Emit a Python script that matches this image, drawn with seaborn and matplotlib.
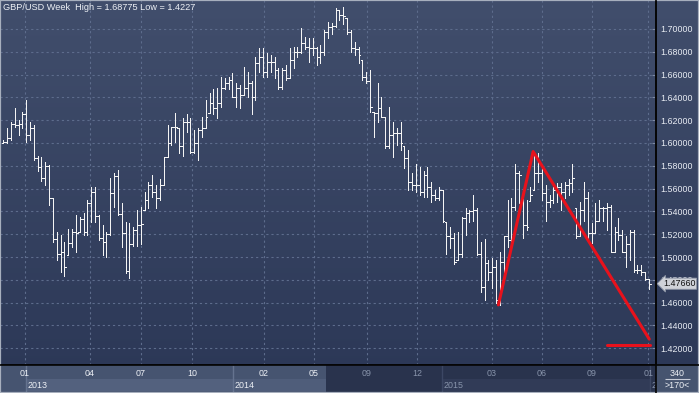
import numpy as np
import matplotlib
matplotlib.use("Agg")
import matplotlib.pyplot as plt
import matplotlib.transforms as mtransforms
from matplotlib.colors import LinearSegmentedColormap
from matplotlib.patches import Rectangle
from matplotlib.lines import Line2D
import seaborn as sns

title = "GBP/USD Week  High = 1.68775 Low = 1.4227"

opens = [
    1.600, 1.601, 1.604, 1.617, 1.616, 1.617, 1.625, 1.607, 1.613, 1.587,
    1.579, 1.569, 1.580, 1.552, 1.516, 1.503, 1.504, 1.502, 1.512, 1.522,
    1.522, 1.533, 1.522, 1.547, 1.557, 1.536, 1.517, 1.513, 1.520, 1.556,
    1.571, 1.538, 1.521, 1.488, 1.511, 1.524, 1.528, 1.541, 1.550, 1.563,
    1.557, 1.552, 1.563, 1.588, 1.600, 1.614, 1.613, 1.597, 1.618, 1.618,
    1.592, 1.600, 1.611, 1.613, 1.626, 1.635, 1.631, 1.635, 1.648, 1.653,
    1.655, 1.640, 1.648, 1.642, 1.648, 1.653, 1.640, 1.670, 1.675, 1.662,
    1.671, 1.671, 1.664, 1.649, 1.664, 1.657, 1.673, 1.680, 1.680, 1.688,
    1.684, 1.683, 1.683, 1.675, 1.680, 1.697, 1.702, 1.703, 1.717, 1.712,
    1.710, 1.697, 1.683, 1.682, 1.673, 1.658, 1.654, 1.627, 1.626, 1.631,
    1.623, 1.597, 1.607, 1.609, 1.609, 1.597, 1.587, 1.566, 1.563, 1.563,
    1.557, 1.572, 1.561, 1.554, 1.552, 1.559, 1.531, 1.518, 1.517, 1.497,
    1.503, 1.534, 1.539, 1.540, 1.541, 1.503, 1.474, 1.495, 1.487, 1.491,
    1.462, 1.496, 1.518, 1.515, 1.544, 1.574, 1.552, 1.528, 1.549, 1.559,
    1.574, 1.574, 1.556, 1.548, 1.550, 1.559, 1.561, 1.557, 1.563, 1.565,
    1.543, 1.518, 1.541, 1.552, 1.521, 1.521, 1.532, 1.543, 1.543, 1.544,
    1.504, 1.522, 1.519, 1.504, 1.511, 1.522, 1.489, 1.489, 1.487, 1.481,
]
highs = [
    1.603, 1.613, 1.618, 1.631, 1.620, 1.627, 1.638, 1.618, 1.616, 1.589,
    1.588, 1.583, 1.581, 1.552, 1.522, 1.519, 1.513, 1.525, 1.525, 1.537,
    1.535, 1.539, 1.550, 1.561, 1.561, 1.537, 1.528, 1.522, 1.569, 1.574,
    1.576, 1.547, 1.531, 1.530, 1.526, 1.541, 1.544, 1.557, 1.566, 1.572,
    1.563, 1.568, 1.588, 1.616, 1.614, 1.626, 1.613, 1.622, 1.625, 1.622,
    1.611, 1.613, 1.623, 1.638, 1.644, 1.647, 1.648, 1.658, 1.657, 1.658,
    1.661, 1.653, 1.651, 1.667, 1.662, 1.654, 1.675, 1.683, 1.683, 1.679,
    1.677, 1.675, 1.666, 1.666, 1.668, 1.683, 1.684, 1.684, 1.701, 1.693,
    1.692, 1.692, 1.684, 1.686, 1.699, 1.706, 1.705, 1.718, 1.717, 1.719,
    1.710, 1.699, 1.689, 1.684, 1.673, 1.662, 1.664, 1.627, 1.653, 1.640,
    1.623, 1.632, 1.618, 1.613, 1.618, 1.597, 1.594, 1.574, 1.582, 1.579,
    1.575, 1.579, 1.566, 1.559, 1.561, 1.559, 1.531, 1.526, 1.521, 1.522,
    1.535, 1.543, 1.541, 1.554, 1.543, 1.513, 1.516, 1.497, 1.499, 1.497,
    1.504, 1.518, 1.550, 1.552, 1.582, 1.575, 1.552, 1.550, 1.561, 1.591,
    1.591, 1.579, 1.563, 1.554, 1.561, 1.565, 1.565, 1.566, 1.568, 1.582,
    1.543, 1.548, 1.566, 1.557, 1.530, 1.547, 1.550, 1.544, 1.547, 1.546,
    1.526, 1.534, 1.524, 1.518, 1.524, 1.524, 1.493, 1.493, 1.487, 1.481,
]
lows = [
    1.600, 1.600, 1.603, 1.614, 1.607, 1.613, 1.601, 1.603, 1.585, 1.575,
    1.567, 1.563, 1.546, 1.513, 1.497, 1.487, 1.483, 1.502, 1.509, 1.504,
    1.522, 1.519, 1.519, 1.531, 1.531, 1.515, 1.502, 1.500, 1.519, 1.544,
    1.537, 1.509, 1.486, 1.482, 1.510, 1.510, 1.511, 1.541, 1.543, 1.553,
    1.543, 1.550, 1.563, 1.588, 1.598, 1.601, 1.591, 1.589, 1.610, 1.591,
    1.591, 1.585, 1.605, 1.613, 1.626, 1.625, 1.622, 1.632, 1.647, 1.647,
    1.640, 1.632, 1.631, 1.642, 1.640, 1.625, 1.638, 1.662, 1.658, 1.658,
    1.662, 1.657, 1.647, 1.647, 1.655, 1.657, 1.666, 1.675, 1.679, 1.682,
    1.671, 1.677, 1.668, 1.670, 1.677, 1.692, 1.696, 1.702, 1.708, 1.704,
    1.696, 1.680, 1.677, 1.670, 1.655, 1.653, 1.627, 1.605, 1.618, 1.623,
    1.596, 1.596, 1.588, 1.598, 1.594, 1.578, 1.559, 1.559, 1.557, 1.554,
    1.553, 1.553, 1.548, 1.550, 1.550, 1.531, 1.503, 1.508, 1.494, 1.497,
    1.500, 1.519, 1.531, 1.532, 1.502, 1.469, 1.462, 1.480, 1.473, 1.460,
    1.458, 1.486, 1.509, 1.512, 1.541, 1.547, 1.517, 1.524, 1.549, 1.559,
    1.566, 1.550, 1.532, 1.544, 1.547, 1.548, 1.541, 1.552, 1.554, 1.557,
    1.517, 1.518, 1.532, 1.513, 1.512, 1.521, 1.532, 1.532, 1.524, 1.504,
    1.504, 1.515, 1.504, 1.491, 1.497, 1.487, 1.486, 1.484, 1.480, 1.472,
]
closes = [
    1.601, 1.604, 1.617, 1.616, 1.617, 1.625, 1.607, 1.613, 1.587, 1.579,
    1.569, 1.580, 1.552, 1.516, 1.503, 1.504, 1.491, 1.512, 1.522, 1.521,
    1.533, 1.522, 1.547, 1.557, 1.536, 1.517, 1.513, 1.520, 1.556, 1.571,
    1.538, 1.521, 1.488, 1.511, 1.524, 1.528, 1.529, 1.550, 1.563, 1.557,
    1.552, 1.563, 1.588, 1.600, 1.614, 1.614, 1.597, 1.618, 1.618, 1.592,
    1.600, 1.611, 1.613, 1.623, 1.635, 1.631, 1.635, 1.648, 1.653, 1.655,
    1.640, 1.648, 1.642, 1.648, 1.653, 1.640, 1.670, 1.675, 1.662, 1.671,
    1.671, 1.664, 1.649, 1.664, 1.657, 1.673, 1.680, 1.680, 1.688, 1.684,
    1.683, 1.683, 1.675, 1.680, 1.697, 1.702, 1.703, 1.717, 1.712, 1.711,
    1.697, 1.683, 1.682, 1.677, 1.658, 1.654, 1.632, 1.626, 1.631, 1.623,
    1.597, 1.607, 1.609, 1.609, 1.600, 1.587, 1.566, 1.563, 1.563, 1.557,
    1.572, 1.561, 1.554, 1.552, 1.559, 1.532, 1.518, 1.517, 1.496, 1.503,
    1.534, 1.539, 1.540, 1.541, 1.503, 1.474, 1.495, 1.487, 1.491, 1.462,
    1.496, 1.518, 1.515, 1.544, 1.574, 1.572, 1.528, 1.526, 1.554, 1.574,
    1.574, 1.556, 1.548, 1.550, 1.559, 1.561, 1.557, 1.563, 1.565, 1.569,
    1.518, 1.541, 1.552, 1.521, 1.521, 1.532, 1.543, 1.543, 1.544, 1.504,
    1.522, 1.519, 1.504, 1.511, 1.522, 1.489, 1.489, 1.487, 1.481, 1.4766,
]
last_price = 1.4766

price_ticks = [1.42, 1.44, 1.46, 1.48, 1.50, 1.52, 1.54, 1.56,
               1.58, 1.60, 1.62, 1.64, 1.66, 1.68, 1.70]
month_pos = [5.7, 22.7, 36.0, 49.4, 68.2, 81.3, 95.2, 108.3, 127.9, 141.0, 154.1, 168.8]
month_labels = ["01", "04", "07", "10", "02", "05", "09", "12", "03", "06", "09", "01"]
year_pos = [5.9, 60.1, 114.8, 169.3]
year_labels = ["2013", "2014", "2015", "2"]

# hand-drawn pattern lines on the chart
pattern_x = [129.6, 138.7, 169.1]
pattern_y = [1.458, 1.5925, 1.428]
support_x = [158.0, 169.3]
support_y = [1.4227, 1.4227]

bar_count = "340"
bar_range = ">170<"

W, H = 699, 393
XLIM = (-0.86, 170.86)
YLIM = (1.4053, 1.7254)
SCROLL_START = 84.5   # where the darker part of the time axis begins
BOTTOM = 28

sns.set_theme(style="dark")
plt.rcParams["font.family"] = ["Liberation Sans", "DejaVu Sans"]

fig = plt.figure(figsize=(W / 100, H / 100), dpi=100)

# vertical gradient behind everything
bg = fig.add_axes([0, 0, 1, 1], zorder=-5)
bg.axis("off")
cmap = LinearSegmentedColormap.from_list("bg", ["#2b3756", "#414e6c"])
bg.imshow(np.linspace(1, 0, 256).reshape(-1, 1), cmap=cmap, aspect="auto",
          extent=[0, 1, 0, 1], origin="upper")
bg.set_xlim(0, 1)
bg.set_ylim(0, 1)

ax = fig.add_axes([0, BOTTOM / H, 656 / W, (H - BOTTOM) / H])
ax.set_facecolor("none")
ax.patch.set_alpha(0)

idx = np.arange(len(closes))
bar_col = "#f4f4f4"
bar_kw = dict(color=bar_col, lw=0.68, antialiased=False, snap=True, zorder=3)
ax.vlines(idx, lows, highs, **bar_kw)
ax.hlines(opens, idx - 0.45, idx, **bar_kw)
ax.hlines(closes, idx, idx + 0.45, **bar_kw)

sns.lineplot(x=pattern_x, y=pattern_y, sort=False, estimator=None,
             color="#e8121c", lw=2.2, ax=ax, zorder=4)
sns.lineplot(x=support_x, y=support_y, sort=False, estimator=None,
             color="#e8121c", lw=2.2, ax=ax, zorder=4)

ax.set_xlim(*XLIM)
ax.set_ylim(*YLIM)
ax.set_xticks(month_pos)
ax.set_yticks(price_ticks)
ax.set_yticklabels([f"{p:.5f}" for p in price_ticks])
ax.grid(True, color="#5d6c8c", ls=(0, (2, 2.6)), lw=0.8)
ax.set_axisbelow(True)
ax.yaxis.tick_right()
ax.tick_params(axis="y", direction="in", length=3, color="#7d8aa5", width=0.8,
               labelsize=6.4, labelcolor="#e8ecf3", pad=3)
ax.tick_params(axis="x", length=0, labelbottom=False)
ax.set_xlabel("")
ax.set_ylabel("")
for side in ["top", "left"]:
    ax.spines[side].set_visible(False)
for side in ["right", "bottom"]:
    ax.spines[side].set_color("#050505")
    ax.spines[side].set_linewidth(1.2)

fig.text(3 / W, 1 - 3 / H, title, ha="left", va="top", fontsize=6.6, color="#eef1f6")

# last price marker on the right scale, covering the 1.48 label as in the source
trans = mtransforms.blended_transform_factory(ax.transAxes, ax.transData)
ax.text(1 + 7 / 656, last_price, f"{last_price:.5f}", transform=trans,
        ha="left", va="center", fontsize=6.4, color="#111111", zorder=10, clip_on=False,
        bbox=dict(boxstyle="larrow,pad=0.12", fc="#cfd2d8", ec="#8e96a6", lw=0.6))

# time axis panel
axb = fig.add_axes([0, 0, 656 / W, BOTTOM / H])
axb.set_xlim(*XLIM)
axb.set_ylim(0, BOTTOM)
axb.axis("off")
axb.add_patch(Rectangle((XLIM[0], 0), SCROLL_START - XLIM[0], BOTTOM, color="#465470", lw=0))
axb.add_patch(Rectangle((SCROLL_START, 0), XLIM[1] - SCROLL_START, BOTTOM, color="#29334d", lw=0))
axb.add_patch(Rectangle((year_pos[0], 2), year_pos[1] - year_pos[0], 12, color="#53617e", lw=0))
axb.add_patch(Rectangle((year_pos[1], 2), SCROLL_START - year_pos[1], 12, color="#4f5d7a", lw=0))
axb.add_patch(Rectangle((year_pos[2], 2), year_pos[3] - year_pos[2], 12, color="#313b57", lw=0))
for yp in year_pos:
    axb.vlines(yp, 0, BOTTOM, color="#65738f" if yp < SCROLL_START else "#3c4764", lw=1)
for mp, ml in zip(month_pos, month_labels):
    col = "#eef1f6" if mp < SCROLL_START else "#8894ab"
    axb.text(mp, 20, ml, ha="center", va="center", fontsize=6.4, color=col)
for yp, yl in zip(year_pos, year_labels):
    col = "#eef1f6" if yp < SCROLL_START else "#8894ab"
    axb.text(yp + 0.5, 7.5, yl, ha="left", va="center", fontsize=6.4, color=col)

# bottom-right corner box
axc = fig.add_axes([656 / W, 0, 43 / W, BOTTOM / H])
axc.set_xlim(0, 1)
axc.set_ylim(0, BOTTOM)
axc.axis("off")
axc.add_patch(Rectangle((0, 0), 1, BOTTOM, color="#46546f", lw=0))
axc.text(0.5, 20, bar_count, ha="center", va="center", fontsize=6.4, color="#eef1f6")
axc.hlines(14, 0.22, 0.78, color="#c8cdd8", lw=0.8)
axc.text(0.5, 7, bar_range, ha="center", va="center", fontsize=6.4, color="#eef1f6")

fig.add_artist(Line2D([0, 1], [BOTTOM / H, BOTTOM / H], transform=fig.transFigure,
                      color="#050505", lw=1.2))
fig.add_artist(Line2D([656 / W, 656 / W], [0, 1], transform=fig.transFigure,
                      color="#050505", lw=1.2))
fig.add_artist(Rectangle((0, 0), 1, 1, transform=fig.transFigure, fill=False,
                         ec="#a7afbd", lw=1.6))

fig.savefig("out.png", dpi=100)
